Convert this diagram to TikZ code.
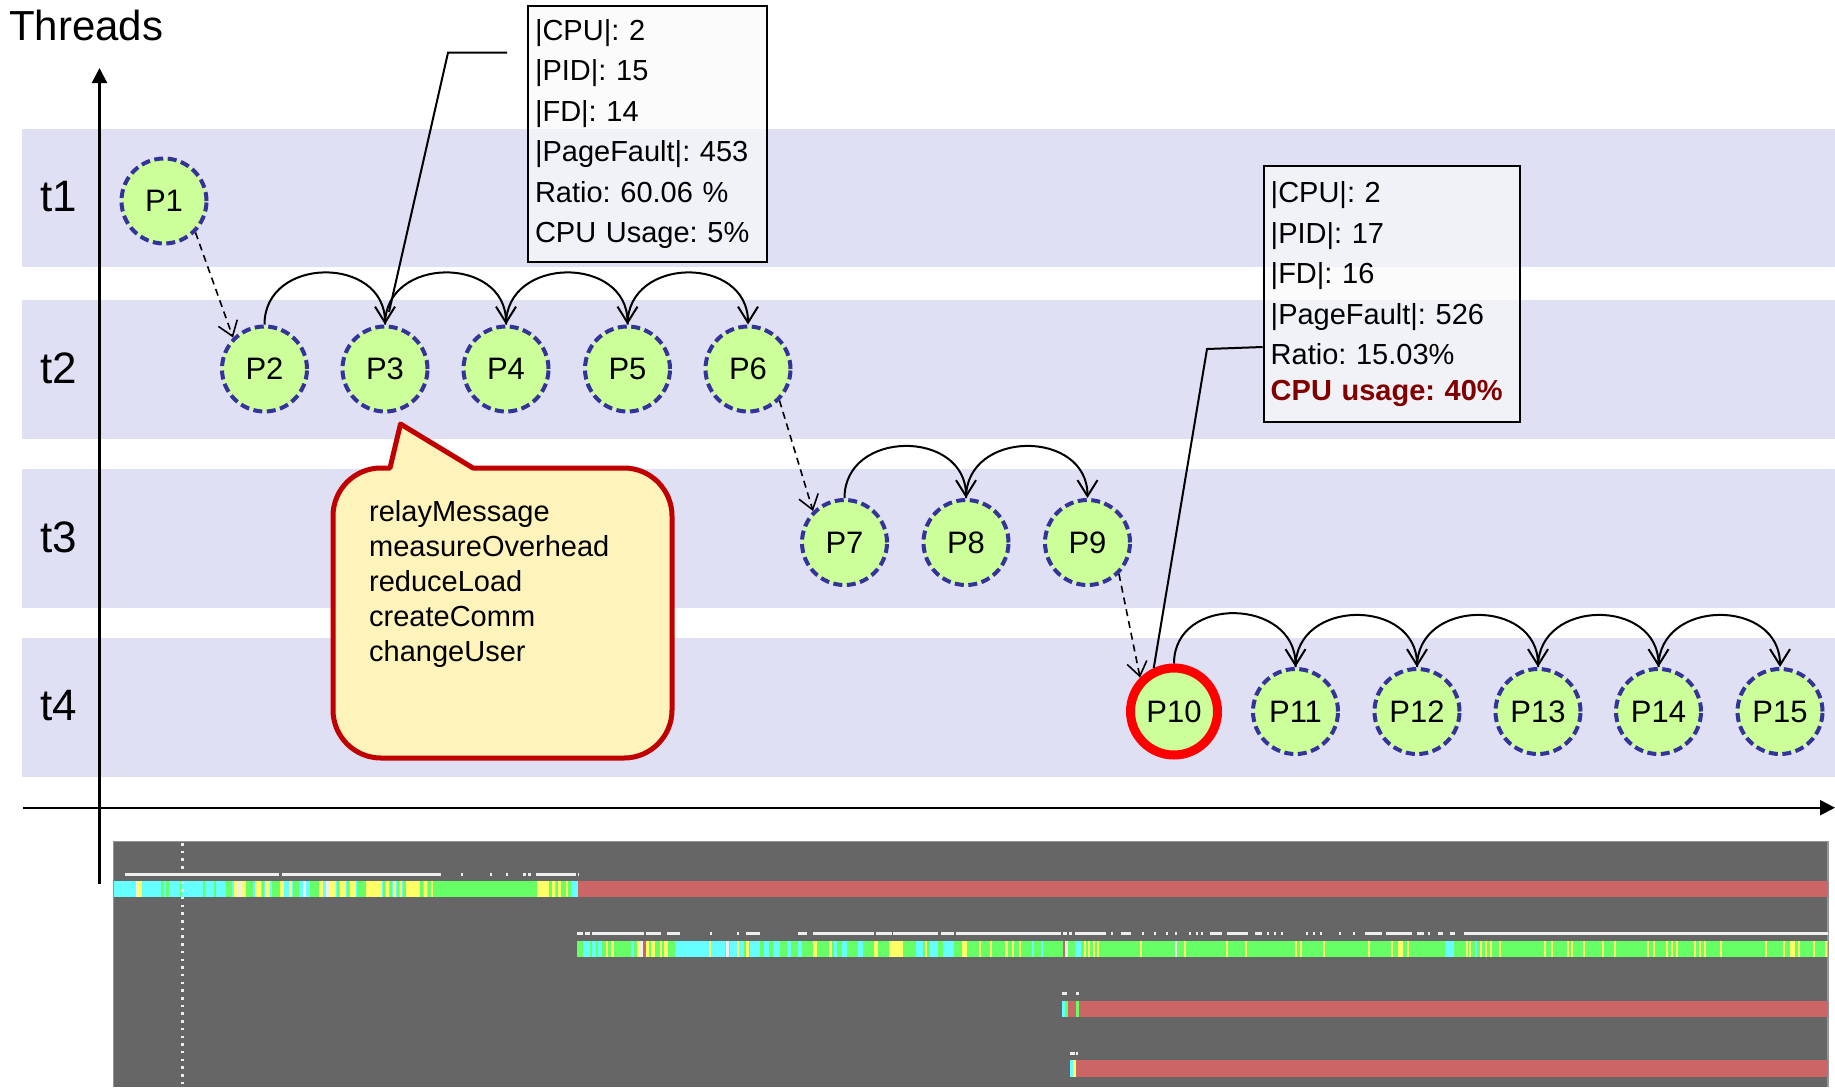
\documentclass[tikz,border=0pt]{standalone}
\usepackage{fontspec}
\setmainfont{Liberation Sans}
\usetikzlibrary{arrows.meta}
\frenchspacing

\definecolor{band}{RGB}{223,224,244}
\definecolor{procfill}{RGB}{204,255,153}
\definecolor{procline}{RGB}{51,51,153}
\definecolor{calloutfill}{RGB}{253,243,187}
\definecolor{calloutline}{RGB}{192,0,0}
\definecolor{usagered}{RGB}{128,0,0}
\definecolor{boxfill}{RGB}{250,250,250}
\definecolor{panelgray}{RGB}{102,102,102}
\definecolor{panelrim}{RGB}{150,150,150}
\definecolor{trcyan}{RGB}{102,255,255}
\definecolor{trgreen}{RGB}{102,255,102}
\definecolor{tryellow}{RGB}{255,255,102}
\definecolor{trred}{RGB}{204,102,102}
\definecolor{trwhite}{RGB}{238,238,238}

\begin{document}
\begin{tikzpicture}[x=1pt,y=-1pt,
  lane/.style={inner sep=0pt, font=\fontsize{44}{50}\selectfont},
  proc/.style={circle, draw=procline, fill=procfill, line width=4pt,
    dash pattern=on 9pt off 4.5pt, minimum size=85pt, inner sep=0pt,
    font=\fontsize{31}{36}\selectfont},
  hot/.style={draw=red, solid, line width=9pt},
  hop/.style={line width=2pt, -{Straight Barb[length=16pt,width=20pt]}},
  jump/.style={line width=1.6pt, dash pattern=on 7pt off 5pt,
    -{Straight Barb[length=14pt,width=20pt]}},
  axis/.style={line width=2.2pt, -{Triangle[length=15pt,width=15pt]}},
  infobox/.style={draw=black, line width=2pt, fill=boxfill, fill opacity=0.7,
    text opacity=1, align=left, anchor=north west, minimum height=256pt,
    inner xsep=7pt, inner ysep=0pt, font=\fontsize{29}{40.5}\selectfont},
  leader/.style={line width=2pt},
  callout/.style={draw=calloutline, fill=calloutfill, line width=5pt, line join=round},
  tick/.style={fill=trwhite}
]
\useasboundingbox (0,0) rectangle (1835,1087);

% thread lanes
\foreach \top/\bot in {129/267, 300/439, 469/607.7, 638/776.7}
  \fill[band] (22,\top) rectangle (1835,\bot);

\node[anchor=base west, inner sep=0pt, font=\fontsize{42}{50}\selectfont] (threads) at (9,40.5) {Threads};
\node[lane] (t1) at (59,197) {t1};
\node[lane] (t2) at (59,368) {t2};
\node[lane] (t3) at (59,537) {t3};
\node[lane] (t4) at (59,706) {t4};

% axes
\coordinate (ybot) at (99.5,884);
\coordinate (ytop) at (99.5,68);
\coordinate (xleft) at (23,807.7);
\coordinate (xright) at (1835,807.7);
\draw[axis] (ybot) -- (ytop);
\draw[axis] (xleft) -- (xright);

% trace panel
\fill[panelgray] (113.5,841.7) rectangle (1828,1087);
\draw[panelrim, line width=1.5pt] (113.5,1087) -- (113.5,841.7) -- (1828,841.7) -- (1828,1087);

% row 1
\fill[trcyan] (113.5,880.7) rectangle (578,896.7);
\fill[trred] (578,880.7) rectangle (1828,896.7);
\foreach \a/\b/\c in {136/138/trwhite, 138/142/tryellow, 161/164/trgreen, 166/169/trgreen,
  180/182/trgreen, 203/205/trgreen, 214/216/trgreen, 226/232/trgreen, 234/237/tryellow,
  237/241/trwhite, 241/246/tryellow, 246/253/trgreen, 255/261/tryellow, 262/264/trgreen,
  265/270/tryellow, 272/280/trgreen, 280/284/tryellow, 289/292/tryellow, 293/299/trgreen,
  303/306/trwhite, 310/319/trgreen, 319/323/tryellow, 326/330/trwhite, 330/336/tryellow,
  337/339/trgreen, 340/346/tryellow, 347/349/trgreen, 350/356/tryellow, 357/366/trgreen,
  366/382/tryellow, 383/385/trgreen, 386/389/tryellow, 390/392/trgreen, 393/396/tryellow,
  397/399/trgreen, 400/402/tryellow, 403/406/trgreen, 406/420/tryellow, 420/423/trgreen,
  424/427/tryellow, 428/431/trgreen, 431/433/tryellow, 433/537/trgreen, 537/549/tryellow,
  549/552/trgreen, 552/555/tryellow, 556/558/trgreen, 558/561/tryellow, 561/566/trgreen,
  566/568/tryellow, 568/571/trgreen}
  \fill[\c] (\a,880.7) rectangle (\b,896.7);
\foreach \a/\b in {125/278.5, 282/440.5, 461/463, 490/492, 506/508, 523/526, 528/531,
  536/576, 577.5/579}
  \fill[tick] (\a,872.5) rectangle (\b,875.5);

% row 2
\fill[trgreen] (577,941) rectangle (1828,957);
\foreach \a/\b/\c in {583/590/trcyan, 592/596/trcyan, 598/602/trcyan, 606/608/tryellow,
  611/614/tryellow, 631/634/trcyan, 637/640/tryellow, 640/643/trwhite, 643/646/trred,
  646/649/tryellow, 651/655/tryellow, 660/662/tryellow, 664/668/tryellow,
  675/708.5/trcyan, 708.5/710.7/tryellow, 710.7/725/trcyan, 726/728.6/trwhite,
  729.5/744/trcyan, 737/738.5/tryellow, 746/748.7/tryellow, 750/760/trcyan,
  764/769/trcyan, 773/780/trcyan, 786.6/791/trcyan, 797.8/802/trcyan, 813/817/tryellow,
  829/832/tryellow, 833.5/836.6/trcyan, 842/847/trcyan, 858/862.5/trcyan,
  873.7/878/tryellow, 889/902.7/tryellow, 916/922.8/trcyan, 925/927/tryellow,
  929.5/938/trcyan, 943/954/trcyan, 961.6/967.4/tryellow, 978.6/980.8/tryellow,
  989.7/992/tryellow, 1005/1007.6/tryellow, 1012/1014/tryellow, 1018.8/1021/tryellow,
  1032/1034/trcyan, 1041/1043/trcyan, 1063/1065/trred, 1065/1068/trwhite,
  1074.5/1081/trcyan, 1083.5/1085.5/tryellow, 1088/1090/tryellow, 1092.5/1094.5/tryellow,
  1097/1099/tryellow, 1140/1142/tryellow, 1175/1177/trwhite, 1184/1186/tryellow,
  1226/1228/tryellow, 1245/1247/tryellow, 1295/1297/tryellow, 1300/1302/tryellow,
  1323/1325/tryellow, 1368/1370/tryellow, 1391/1393/tryellow, 1398/1403/tryellow,
  1407/1409/tryellow, 1445/1454/trcyan, 1466/1468/tryellow, 1469/1471/tryellow,
  1475/1477/trcyan, 1480/1482/tryellow, 1485/1487/tryellow, 1490/1492/tryellow,
  1499/1501/tryellow, 1544/1546/tryellow, 1551/1553/tryellow, 1567/1569/tryellow,
  1571/1573/tryellow, 1583/1585/tryellow, 1602/1604/tryellow, 1614/1616/tryellow,
  1647/1649/tryellow, 1653/1655/tryellow, 1666/1668/tryellow, 1671/1673/tryellow,
  1676/1678/tryellow, 1694/1696/tryellow, 1699/1701/tryellow, 1704/1706/tryellow,
  1720/1722/tryellow, 1765/1767/tryellow, 1783/1785/tryellow, 1790/1795/tryellow,
  1798/1800/tryellow, 1813/1815/tryellow, 1825/1827/tryellow}
  \fill[\c] (\a,941) rectangle (\b,957);
\foreach \a/\b in {577/583, 585/590, 592/644, 646/661, 667/680, 710/712, 737/739,
  746/760, 798/807, 813/874, 876/891.5, 893/938, 940.6/954, 956/1061, 1063/1067,
  1069/1072, 1074.5/1106, 1111/1112.5, 1121/1130.5, 1142/1143.5, 1154/1155.5,
  1166/1167.5, 1175/1176.5, 1189/1190.5, 1196/1197.5, 1201/1202.5, 1210/1222,
  1227/1248, 1255/1262, 1267/1268.5, 1274/1275.5, 1281/1282.5, 1306/1308, 1313/1315,
  1320/1322, 1339/1341, 1353/1355, 1365/1382, 1386/1412, 1417/1424, 1428/1430,
  1438/1443, 1450/1454.5, 1464/1828}
  \fill[tick] (\a,932) rectangle (\b,935);

% row 3
\fill[trred] (1062,1000.7) rectangle (1828,1016.7);
\fill[trcyan] (1062,1000.7) rectangle (1065,1016.7);
\fill[trgreen] (1065,1000.7) rectangle (1068,1016.7);
\fill[trgreen] (1076,1000.7) rectangle (1079,1016.7);
\fill[tick] (1062,991.5) rectangle (1067,994.5);
\fill[tick] (1076,991.5) rectangle (1078.5,994.5);

% row 4
\fill[trred] (1070,1060) rectangle (1828,1076.7);
\fill[trcyan] (1070,1060) rectangle (1073,1076.7);
\fill[tryellow] (1073,1060) rectangle (1076,1076.7);
\fill[tick] (1070,1051.5) rectangle (1075,1054.5);
\fill[tick] (1076,1051.5) rectangle (1078,1054.5);

% time marker
\draw[trwhite, line width=2.5pt, dash pattern=on 2.5pt off 5.2pt] (182.7,843) -- (182.7,1087);

% processes
\node[proc] (P1) at (164,201) {P1};
\node[proc] (P2) at (264.5,369) {P2};
\node[proc] (P3) at (385,369) {P3};
\node[proc] (P4) at (506,369) {P4};
\node[proc] (P5) at (627.5,369) {P5};
\node[proc] (P6) at (748,369) {P6};
\node[proc] (P7) at (844.5,542.5) {P7};
\node[proc] (P8) at (966,542.5) {P8};
\node[proc] (P9) at (1087.5,542.5) {P9};
\node[proc, hot, minimum size=87pt] (P10) at (1174,711.5) {P10};
\node[proc] (P11) at (1295.5,711.5) {P11};
\node[proc] (P12) at (1417,711.5) {P12};
\node[proc] (P13) at (1538,711.5) {P13};
\node[proc] (P14) at (1658.5,711.5) {P14};
\node[proc] (P15) at (1780,711.5) {P15};

% hand-overs within a thread
\foreach \a/\b in {P2/P3, P3/P4, P4/P5, P5/P6, P7/P8, P8/P9,
  P10/P11, P11/P12, P12/P13, P13/P14, P14/P15}
  \draw[hop] (\a.north) .. controls +(0,-69) and +(0,-69) .. (\b.north);

% hand-overs between threads
\draw[jump] (P1.-45) -- (P2.135);
\draw[jump] (P6.-45) -- (P7.135);
\draw[jump] (P9.-45) -- (P10.135);

% callout with the called functions
\path[callout] (390,468) -- (400.5,424) -- (473,468) -- (624,468)
  .. controls (650.5,468) and (672,489.5) .. (672,516) -- (672,710)
  .. controls (672,736.5) and (650.5,758) .. (624,758) -- (381,758)
  .. controls (354.5,758) and (333,736.5) .. (333,710) -- (333,516)
  .. controls (333,489.5) and (354.5,468) .. (381,468) -- cycle;
\node[anchor=north west, inner sep=0pt, align=left, font=\fontsize{29}{35}\selectfont]
  (calls) at (369,500) {relayMessage\\measureOverhead\\reduceLoad\\createComm\\changeUser};

% statistics boxes
\node[infobox, text width=225pt] (box1) at (527,5)
  {|CPU|: 2\\|PID|: 15\\|FD|: 14\\|PageFault|: 453\\Ratio: 60.06 \%\\CPU Usage: 5\%};
\node[infobox, text width=242pt] (box2) at (1262.7,165)
  {|CPU|: 2\\|PID|: 17\\|FD|: 16\\|PageFault|: 526\\Ratio: 15.03\%\\[-5pt]%
   \textcolor{usagered}{\bfseries CPU usage: 40\%}};

\coordinate (k1a) at (507,52.7);
\coordinate (k1b) at (448,52.7);
\coordinate (k1c) at (389,312);
\draw[leader] (k1a) -- (k1b) -- (k1c);
\coordinate (k2a) at (1262.7,347);
\coordinate (k2b) at (1207,349);
\draw[leader] (k2a) -- (k2b) -- (P10.115);
\end{tikzpicture}
\end{document}
